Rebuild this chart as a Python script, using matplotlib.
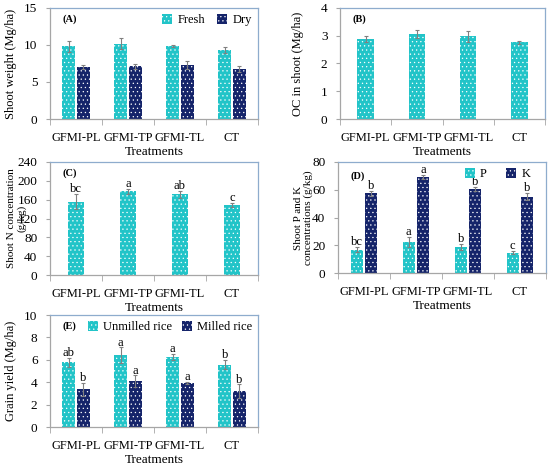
import matplotlib
matplotlib.use('Agg')
import matplotlib.pyplot as plt
import numpy as np

plt.rcParams['font.family'] = ['Liberation Serif', 'DejaVu Serif']
plt.rcParams['hatch.linewidth'] = 0.4

# Datos
treatments = ['GFMI-PL', 'GFMI-TP', 'GFMI-TL', 'CT']

# (A) Shoot weight
fresh = [9.8, 10.2, 9.85, 9.3]
fresh_err = [0.8, 0.75, 0.1, 0.4]
dry = [7.05, 7.1, 7.3, 6.75]
dry_err = [0.25, 0.3, 0.6, 0.35]

# (B) OC in shoot
oc = [2.88, 3.06, 2.98, 2.76]
oc_err = [0.1, 0.15, 0.2, 0.05]

# (C) Shoot N
n_conc = [156, 178, 171, 149]
n_err = [15, 5, 7, 4]
n_letters = ['bc', 'a', 'ab', 'c']

# (D) Shoot P and K
p_conc = [16.9, 22.2, 18.9, 14.5]
p_err = [1.5, 3.5, 2.0, 1.0]
p_letters = ['bc', 'a', 'b', 'c']
k_conc = [57.3, 68.9, 60.4, 54.9]
k_err = [1.5, 1.5, 1.5, 2.5]
k_letters = ['b', 'a', 'b', 'b']

# (E) Grain yield
unmilled = [5.8, 6.4, 6.25, 5.55]
unmilled_err = [0.4, 0.7, 0.3, 0.4]
unmilled_letters = ['ab', 'a', 'a', 'b']
milled = [3.37, 4.1, 3.9, 3.2]
milled_err = [0.6, 0.5, 0.1, 0.6]
milled_letters = ['b', 'a', 'a', 'b']

CYAN = '#22c4c8'
NAVY = '#15246a'
GRAY = '#a6a6a6'
FRAME = '#8eaccd'
W, H = 550, 466


def make_ax(fig, l, r, t, b):
    ax = fig.add_axes([l / W, 1 - b / H, (r - l) / W, (b - t) / H])
    for s in ['top', 'right']:
        ax.spines[s].set_color(FRAME)
    for s in ['left', 'bottom']:
        ax.spines[s].set_color(GRAY)
    for s in ax.spines.values():
        s.set_linewidth(0.9)
    x = np.arange(len(treatments))
    ax.set_xlim(-0.5, len(treatments) - 0.5)
    ax.set_xticks(x)
    ax.set_xticklabels(treatments, fontsize=9)
    ax.set_xticks(np.arange(-0.5, len(treatments), 1), minor=True)
    ax.tick_params(axis='x', which='major', length=0, pad=9.5)
    ax.tick_params(axis='x', which='minor', length=4, color=GRAY, direction='out')
    ax.tick_params(axis='y', length=3, color=GRAY, labelsize=9.5, pad=6)
    ax.set_xlabel('Treatments', fontsize=9.5, labelpad=1.5)
    return ax


def bars(ax, x, vals, err, color, width, label=None):
    return ax.bar(x, vals, width, yerr=err, color=color, edgecolor='white',
                  linewidth=0, hatch='....', label=label,
                  error_kw=dict(ecolor='#808080', elinewidth=0.8, capsize=1.5, capthick=0.8))


def letters(ax, x, vals, err, labs, off):
    for xi, v, e, s in zip(x, vals, err, labs):
        ax.text(xi, v + e + off, s, ha='center', va='bottom', fontsize=9)


fig = plt.figure(figsize=(5.5, 4.66), dpi=100)
x = np.arange(len(treatments))

# (A)
ax = make_ax(fig, 50, 258, 8, 119)
bars(ax, x - 0.14, fresh, fresh_err, CYAN, 0.24, 'Fresh')
bars(ax, x + 0.14, dry, dry_err, NAVY, 0.24, 'Dry')
ax.set_ylim(0, 15)
ax.set_yticks([0, 5, 10, 15])
ax.set_ylabel('Shoot weight (Mg/ha)', fontsize=9)
ax.yaxis.set_label_coords(-0.16, 0.5)
ax.text(0.06, 0.9, '(A)', transform=ax.transAxes, fontsize=7.5, fontweight='bold', va='center')
ax.legend(loc='upper right', ncol=2, fontsize=9, frameon=False, handlelength=0.8,
          handleheight=0.8, columnspacing=1.0, handletextpad=0.4, borderaxespad=0.1)

# (B)
ax = make_ax(fig, 340, 545, 8, 119)
bars(ax, x, oc, oc_err, CYAN, 0.32)
ax.set_ylim(0, 4)
ax.set_yticks([0, 1, 2, 3, 4])
ax.set_ylabel('OC in shoot (Mg/ha)', fontsize=9)
ax.yaxis.set_label_coords(-0.175, 0.5)
ax.text(0.06, 0.9, '(B)', transform=ax.transAxes, fontsize=7.5, fontweight='bold', va='center')

# (C)
ax = make_ax(fig, 50, 258, 162, 275)
bars(ax, x, n_conc, n_err, CYAN, 0.32)
letters(ax, x, n_conc, n_err, n_letters, -2)
ax.set_ylim(0, 240)
ax.set_yticks(np.arange(0, 241, 40))
ax.set_ylabel('Shoot N concentration\n(g/kg)', fontsize=8, linespacing=1.1)
ax.yaxis.set_label_coords(-0.115, 0.5)
ax.text(0.06, 0.9, '(C)', transform=ax.transAxes, fontsize=7.5, fontweight='bold', va='center')

# (D)
ax = make_ax(fig, 338, 546, 162, 273)
bars(ax, x - 0.14, p_conc, p_err, CYAN, 0.23, 'P')
bars(ax, x + 0.14, k_conc, k_err, NAVY, 0.23, 'K')
letters(ax, x - 0.14, p_conc, p_err, p_letters, -0.5)
letters(ax, x + 0.14, k_conc, k_err, k_letters, -0.5)
ax.set_ylim(0, 80)
ax.set_yticks(np.arange(0, 81, 20))
ax.set_ylabel('Shoot P and K\nconcentrations (g/kg)', fontsize=8, linespacing=1.1)
ax.yaxis.set_label_coords(-0.12, 0.5)
ax.text(0.06, 0.87, '(D)', transform=ax.transAxes, fontsize=7.5, fontweight='bold', va='center')
ax.legend(loc='upper right', bbox_to_anchor=(0.955, 1.0), ncol=2, fontsize=9, frameon=False,
          handlelength=0.8, handleheight=0.8, columnspacing=1.6, handletextpad=0.4,
          borderaxespad=0.1)

# (E)
ax = make_ax(fig, 50, 258, 315, 427)
bars(ax, x - 0.14, unmilled, unmilled_err, CYAN, 0.24, 'Unmilled rice')
bars(ax, x + 0.14, milled, milled_err, NAVY, 0.24, 'Milled rice')
letters(ax, x - 0.14, unmilled, unmilled_err, unmilled_letters, -0.1)
letters(ax, x + 0.14, milled, milled_err, milled_letters, -0.1)
ax.set_ylim(0, 10)
ax.set_yticks(np.arange(0, 11, 2))
ax.set_ylabel('Grain yield (Mg/ha)', fontsize=9)
ax.yaxis.set_label_coords(-0.16, 0.5)
ax.text(0.06, 0.9, '(E)', transform=ax.transAxes, fontsize=7.5, fontweight='bold', va='center')
ax.legend(loc='upper right', ncol=2, fontsize=9, frameon=False, handlelength=0.8,
          handleheight=0.8, columnspacing=0.8, handletextpad=0.4, borderaxespad=0.1)

fig.savefig('out.png', dpi=100)
